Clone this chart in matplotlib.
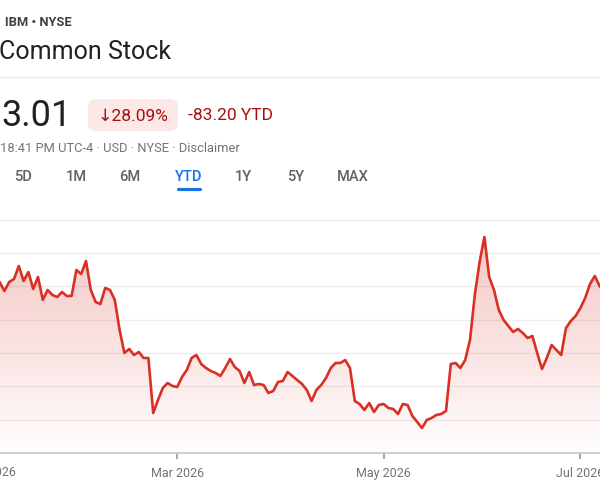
import numpy as np
import pandas as pd
import matplotlib
matplotlib.use("Agg")
import matplotlib.pyplot as plt
from matplotlib.patches import FancyBboxPatch, PathPatch

plt.rcParams['font.family'] = ['Roboto', 'DejaVu Sans']

# daily closes, first value is Mon 5 Jan 2026
close = [300.2, 302.6, 297.2, 302.6, 304.4, 312.2, 303.2, 308.6, 298.4, 305.6,
         291.8, 297.8, 294.8, 293.6, 296.6, 294.2, 294.2, 309.8, 307.4, 315.2,
         297.8, 290.6, 289.4, 299.0, 297.8, 291.8, 273.8, 260.0, 262.4, 258.8,
         260.6, 257.0, 257.0, 224.0, 231.8, 239.0, 242.0, 240.2, 239.6, 245.6,
         249.8, 257.0, 258.8, 253.4, 251.0, 249.2, 248.0, 246.2, 251.0, 256.4,
         251.6, 249.2, 242.0, 248.6, 240.8, 241.4, 240.8, 236.0, 237.2, 242.6,
         243.2, 248.6, 246.2, 243.8, 241.4, 237.8, 231.2, 237.8, 240.8, 245.0,
         251.0, 254.0, 254.0, 255.8, 251.0, 231.2, 229.4, 225.8, 230.0, 224.6,
         228.8, 229.4, 227.0, 226.4, 223.4, 229.4, 228.8, 222.2, 218.6, 215.0,
         219.8, 221.0, 222.8, 223.4, 225.2, 253.4, 254.0, 251.0, 255.8, 267.8,
         294.8, 314.6, 329.6, 305.6, 297.8, 285.8, 279.8, 276.2, 272.6, 274.4,
         272.0, 269.0, 270.2, 260.0, 250.4, 257.0, 264.8, 261.8, 258.8, 275.0,
         279.2, 282.2, 287.0, 293.0, 301.4, 306.2, 300.2, 296.6]

holidays = ["2026-01-01", "2026-01-19", "2026-02-16", "2026-04-03",
            "2026-05-25", "2026-06-19", "2026-07-03"]
month_starts = ["2026-01-01", "2026-03-01", "2026-05-01", "2026-07-01"]
month_labels = ["Jan 2026", "Mar 2026", "May 2026", "Jul 2026"]
tabs = ["5D", "1M", "6M", "YTD", "1Y", "5Y", "MAX"]
tab_x = [23, 76, 130, 189, 243, 296, 353]

RED = "#d93025"
DARK_RED = "#a50e0e"
BLUE = "#1a73e8"

# trading-day calendar, x axis is spaced by trading day (like Google Finance)
cal = pd.bdate_range("2026-01-02", "2026-08-31", freq="C", holidays=holidays)
start = cal.searchsorted(pd.Timestamp("2026-01-05"))
x = np.arange(start, start + len(close))
tick_pos = [cal.searchsorted(pd.Timestamp(m)) for m in month_starts]

fig = plt.figure(figsize=(6, 4.8), dpi=100)

# pixel-coordinate overlay for the header part
bg = fig.add_axes([0, 0, 1, 1])
bg.set_xlim(0, 600)
bg.set_ylim(480, 0)
bg.axis("off")

bg.text(5, 23, "IBM \u2022 NYSE", fontsize=9.3, fontweight="bold",
        color="#3c4043", va="center", ha="left")
bg.text(-1, 52, "Common Stock", fontsize=18, color="#202124", va="center", ha="left")
bg.plot([0, 600], [77, 77], color="#e8eaed", lw=1)

bg.text(1, 116, "3.01", fontsize=26, color="#202124", va="center", ha="left")
bg.add_patch(FancyBboxPatch((88, 99), 90, 32, boxstyle="round,pad=0,rounding_size=8",
                            fc="#fce8e6", ec="none"))
bg.text(133, 116, "\u219328.09%", fontsize=12.5, color=DARK_RED, va="center", ha="center")
bg.text(188, 116, "-83.20 YTD", fontsize=12.5, color=DARK_RED, va="center", ha="left")
bg.text(0, 149, "18:41 PM UTC-4 \u00b7 USD \u00b7 NYSE \u00b7 Disclaimer", fontsize=9.3,
        color="#70757a", va="center", ha="left")

for lbl, tx in zip(tabs, tab_x):
    c = BLUE if lbl == "YTD" else "#5f6368"
    bg.text(tx, 177, lbl, fontsize=10.5, fontweight="medium", color=c,
            va="center", ha="center")
bg.plot([178, 200], [188.5, 188.5], color=BLUE, lw=2.3, solid_capstyle="round")

# chart axes: 4.8 px per trading day, Jan 2 sits 10 px left of the crop
px_day = 4.8
x_off = -10
ax = fig.add_axes([0, 27 / 480, 1, (453 - 212) / 480])
y_low = 200
y_high = 200 + (453 - 212) * 0.6
ax.patch.set_alpha(0)

ax.plot(x, close, color=RED, lw=1.9, zorder=3, solid_joinstyle="round",
        solid_capstyle="round")

# gradient fill under the line
poly = ax.fill_between(x, close, y_low, color="none")
clip = PathPatch(poly.get_paths()[0], transform=ax.transData, fc="none", ec="none")
ax.add_patch(clip)
grad = np.zeros((256, 1, 4))
grad[:, 0, :3] = matplotlib.colors.to_rgb(RED)
grad[:, 0, 3] = np.linspace(0.27, 0.01, 256)
im = ax.imshow(grad, extent=[x[0], x[-1], y_low, 330], origin="upper",
               aspect="auto", zorder=2)
im.set_clip_path(clip)
ax.set_xlim(-x_off / px_day, (600 - x_off) / px_day)
ax.set_ylim(y_low, y_high)

ax.set_yticks(np.arange(220, 341, 20))
ax.yaxis.grid(True, color="#eceef0", lw=0.9)
ax.tick_params(axis="y", length=0, labelleft=False)
ax.set_axisbelow(True)

ax.set_xticks(tick_pos[1:])
ax.set_xticklabels(month_labels[1:])
ax.tick_params(axis="x", length=4, width=1.3, color="#9aa0a6", labelcolor="#70757a",
               labelsize=9, pad=6)
for s in ["top", "left", "right"]:
    ax.spines[s].set_visible(False)
ax.spines["bottom"].set_color("#c4c7c5")
ax.spines["bottom"].set_linewidth(1.2)

# January label sits left of the visible area, only its tail shows
bg.text(x_off + tick_pos[0] * px_day, 472, month_labels[0], fontsize=9,
        color="#70757a", va="center", ha="center", clip_on=False)

fig.savefig("out.png", dpi=100)
